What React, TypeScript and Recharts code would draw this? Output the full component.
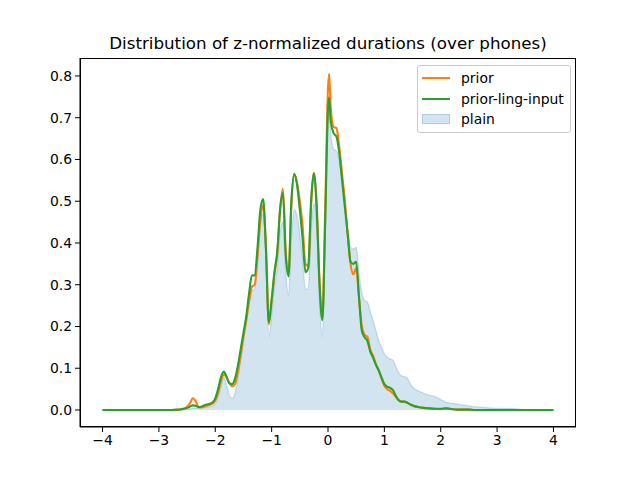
import { ComposedChart, Area, Line, XAxis, YAxis } from "recharts";

// z-normalized duration grid (denser where the curves move)
const xs = [
  -4, -3.5, -3, -2.8, -2.7, -2.6, -2.55, -2.5, -2.45, -2.4, -2.35, -2.3, -2.25, -2.2, -2.15, -2.1,
  -2.05, -2.0, -1.95, -1.9, -1.85, -1.8, -1.75, -1.7, -1.65, -1.6, -1.55, -1.5, -1.45, -1.4, -1.35,
  -1.3, -1.25, -1.2, -1.15, -1.1, -1.05, -1.0, -0.95, -0.9, -0.85, -0.8, -0.75, -0.7, -0.65, -0.6,
  -0.55, -0.5, -0.45, -0.4, -0.35, -0.3, -0.25, -0.2, -0.15, -0.1, -0.05, 0.0, 0.02, 0.05, 0.1, 0.15,
  0.2, 0.25, 0.3, 0.35, 0.4, 0.45, 0.5, 0.55, 0.6, 0.65, 0.7, 0.75, 0.8, 0.85, 0.9, 0.95, 1.0, 1.05,
  1.1, 1.15, 1.2, 1.25, 1.3, 1.35, 1.4, 1.45, 1.5, 1.6, 1.7, 1.8, 1.9, 2.0, 2.1, 2.2, 2.3, 2.4, 2.5,
  2.6, 2.8, 3.0, 3.2, 3.5, 4,
];

const prior = [
  0, 0, 0, 0, 0, 0.002, 0.004, 0.008, 0.016, 0.028, 0.022, 0.008, 0.006, 0.008, 0.01, 0.012,
  0.015, 0.022, 0.04, 0.068, 0.085, 0.078, 0.065, 0.057, 0.062, 0.09, 0.13, 0.175, 0.215, 0.26, 0.295,
  0.3, 0.37, 0.455, 0.49, 0.39, 0.205, 0.26, 0.325, 0.375, 0.48, 0.53, 0.38, 0.33, 0.49, 0.565,
  0.545, 0.5, 0.44, 0.35, 0.345, 0.49, 0.568, 0.49, 0.31, 0.22, 0.48, 0.77, 0.805, 0.72, 0.678, 0.675,
  0.63, 0.565, 0.5, 0.42, 0.35, 0.325, 0.34, 0.27, 0.2, 0.18, 0.175, 0.145, 0.13, 0.11, 0.095, 0.075, 0.058, 0.05,
  0.046, 0.04, 0.032, 0.024, 0.02, 0.02, 0.018, 0.014, 0.011, 0.007, 0.005, 0.004, 0.003, 0.002, 0.004, 0.002, 0.001, 0.001, 0.001,
  0, 0, 0, 0, 0, 0,
];

const priorLingInput = [
  0, 0, 0, 0, 0.001, 0.002, 0.003, 0.005, 0.008, 0.011, 0.01, 0.007, 0.008, 0.011, 0.013, 0.015,
  0.018, 0.028, 0.05, 0.078, 0.092, 0.08, 0.064, 0.062, 0.075, 0.105, 0.145, 0.185, 0.225, 0.28, 0.322,
  0.323, 0.39, 0.48, 0.505, 0.38, 0.21, 0.265, 0.33, 0.38, 0.48, 0.52, 0.37, 0.32, 0.5, 0.565,
  0.54, 0.48, 0.41, 0.33, 0.34, 0.5, 0.567, 0.48, 0.3, 0.215, 0.45, 0.72, 0.748, 0.69, 0.663, 0.655,
  0.615, 0.55, 0.485, 0.42, 0.355, 0.35, 0.355, 0.27, 0.19, 0.174, 0.165, 0.14, 0.125, 0.108, 0.095, 0.078, 0.062, 0.056,
  0.053, 0.048, 0.035, 0.024, 0.02, 0.02, 0.018, 0.014, 0.011, 0.007, 0.005, 0.004, 0.003, 0.003, 0.004, 0.002, 0.001, 0.001, 0.001,
  0, 0, 0, 0, 0, 0,
];

const plain = [
  0, 0, 0, 0, 0, 0, 0.001, 0.002, 0.003, 0.004, 0.004, 0.004, 0.005, 0.006, 0.007, 0.008,
  0.01, 0.015, 0.03, 0.055, 0.078, 0.06, 0.035, 0.028, 0.04, 0.075, 0.12, 0.165, 0.21, 0.255, 0.285,
  0.29, 0.355, 0.445, 0.47, 0.37, 0.175, 0.225, 0.295, 0.34, 0.43, 0.45, 0.33, 0.275, 0.41, 0.48,
  0.465, 0.42, 0.36, 0.29, 0.29, 0.43, 0.495, 0.44, 0.26, 0.175, 0.42, 0.7, 0.735, 0.66, 0.625, 0.62,
  0.6, 0.55, 0.49, 0.43, 0.39, 0.385, 0.39, 0.33, 0.28, 0.262, 0.258, 0.235, 0.215, 0.19, 0.165, 0.15, 0.135, 0.127,
  0.122, 0.12, 0.105, 0.09, 0.082, 0.08, 0.078, 0.065, 0.055, 0.046, 0.04, 0.035, 0.032, 0.025, 0.018, 0.016, 0.014, 0.012, 0.01,
  0.008, 0.006, 0.004, 0.004, 0.001, 0,
];

const xTicks = [-4, -3, -2, -1, 0, 1, 2, 3, 4];
const yTicks = [0, 0.1, 0.2, 0.3, 0.4, 0.5, 0.6, 0.7, 0.8];

const FONT = "'DejaVu Sans', sans-serif";

const data = xs.map((x, i) => ({
  x,
  prior: prior[i],
  priorLing: priorLingInput[i],
  plain: plain[i],
}));

const legendItems = [
  { label: "prior", color: "#ff7f0e", kind: "line" },
  { label: "prior-ling-input", color: "#2ca02c", kind: "line" },
  { label: "plain", color: "#1f77b4", kind: "patch" },
];

function LegendBox() {
  return (
    <div
      style={{
        position: "absolute",
        left: 417,
        top: 65,
        border: "1px solid #cccccc",
        borderRadius: 3,
        background: "rgba(255,255,255,0.8)",
        padding: "2px 6px 2px 4px",
        fontFamily: FONT,
        fontSize: 13.9,
        color: "#000",
      }}
    >
      {legendItems.map((it) => (
        <div key={it.label} style={{ display: "flex", alignItems: "center", height: 20.6 }}>
          {it.kind === "line" ? (
            <span style={{ width: 28, height: 2, background: it.color, display: "inline-block" }} />
          ) : (
            <span
              style={{
                width: 28,
                height: 10,
                boxSizing: "border-box",
                background: "rgba(31,119,180,0.2)",
                border: "1px solid rgba(31,119,180,0.2)",
                display: "inline-block",
              }}
            />
          )}
          <span style={{ marginLeft: 11 }}>{it.label}</span>
        </div>
      ))}
    </div>
  );
}

const fmtX = (v: number) => (v < 0 ? `\u2212${Math.abs(v)}` : String(v));

export default function App() {
  return (
    <div style={{ position: "absolute", left: 0, top: 0, width: 640, height: 480, background: "#fff" }}>
      <div
        style={{
          position: "absolute",
          left: 80,
          width: 496,
          top: 33,
          textAlign: "center",
          fontFamily: FONT,
          fontSize: 16.7,
          color: "#000",
        }}
      >
        Distribution of z-normalized durations (over phones)
      </div>
      <ComposedChart
        width={640}
        height={480}
        data={data}
        margin={{ top: 58, right: 64, bottom: 23, left: 30 }}
      >
        <XAxis
          dataKey="x"
          type="number"
          domain={[-4.4, 4.4]}
          ticks={xTicks}
          tickFormatter={fmtX}
          height={30}
          tickSize={5}
          tickMargin={3}
          stroke="#000"
          tick={{ fill: "#000", fontSize: 13.9, fontFamily: FONT }}
          allowDataOverflow
        />
        <YAxis
          type="number"
          domain={[-0.0407, 0.843]}
          ticks={yTicks}
          tickFormatter={(v: number) => v.toFixed(1)}
          width={50}
          tickSize={5}
          tickMargin={3}
          stroke="#000"
          tick={{ fill: "#000", fontSize: 13.9, fontFamily: FONT }}
          allowDataOverflow
        />
        <Area
          dataKey="plain"
          type="monotone"
          baseValue={0}
          fill="#1f77b4"
          fillOpacity={0.2}
          stroke="#1f77b4"
          strokeOpacity={0.2}
          strokeWidth={1.4}
          isAnimationActive={false}
        />
        <Line
          dataKey="prior"
          type="monotone"
          stroke="#ff7f0e"
          strokeWidth={2.1}
          dot={false}
          isAnimationActive={false}
        />
        <Line
          dataKey="priorLing"
          type="monotone"
          stroke="#2ca02c"
          strokeWidth={2.1}
          dot={false}
          isAnimationActive={false}
        />
      </ComposedChart>
      <div
        style={{
          position: "absolute",
          left: 80,
          top: 58,
          width: 496,
          height: 369,
          boxSizing: "border-box",
          border: "1px solid #000",
          pointerEvents: "none",
        }}
      />
      <LegendBox />
    </div>
  );
}
